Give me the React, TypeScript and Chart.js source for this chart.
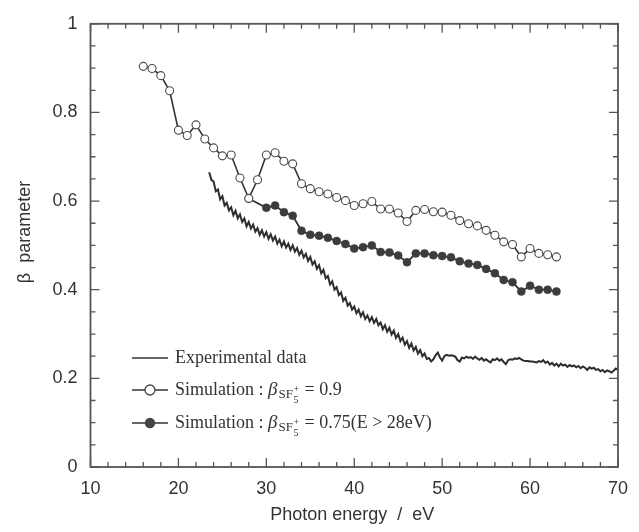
import React, { useEffect, useRef } from 'react';
import { Chart, registerables } from 'chart.js';

Chart.register(...registerables);

// Simulation : beta(SF5+) = 0.9  (open circles)
const openEnergy = [16, 17, 18, 19, 20, 21, 22, 23, 24, 25, 26, 27, 28, 29, 30, 31, 32, 33, 34, 35, 36, 37, 38, 39, 40, 41, 42, 43, 44, 45, 46, 47, 48, 49, 50, 51, 52, 53, 54, 55, 56, 57, 58, 59, 60, 61, 62, 63];
const openBeta = [0.904, 0.899, 0.883, 0.849, 0.760, 0.748, 0.772, 0.740, 0.720, 0.702, 0.704, 0.652, 0.606, 0.648, 0.704, 0.709, 0.690, 0.684, 0.639, 0.628, 0.621, 0.616, 0.608, 0.601, 0.590, 0.594, 0.599, 0.582, 0.582, 0.573, 0.554, 0.579, 0.581, 0.576, 0.575, 0.568, 0.556, 0.549, 0.544, 0.534, 0.523, 0.508, 0.502, 0.474, 0.493, 0.482, 0.479, 0.474];

// Simulation : beta(SF5+) = 0.75 (E > 28 eV)  (filled circles)
const filledEnergy = [28, 30, 31, 32, 33, 34, 35, 36, 37, 38, 39, 40, 41, 42, 43, 44, 45, 46, 47, 48, 49, 50, 51, 52, 53, 54, 55, 56, 57, 58, 59, 60, 61, 62, 63];
const filledBeta = [0.606, 0.585, 0.590, 0.575, 0.567, 0.533, 0.524, 0.522, 0.517, 0.510, 0.503, 0.493, 0.496, 0.500, 0.485, 0.484, 0.477, 0.462, 0.482, 0.482, 0.478, 0.476, 0.473, 0.464, 0.459, 0.456, 0.447, 0.437, 0.422, 0.417, 0.396, 0.409, 0.400, 0.400, 0.396];

// Experimental data, sampled every 0.25 eV from 23.5 eV
const expStart = 23.5;
const expStep = 0.25;
const expBeta = [
  0.665, 0.648,
  0.644, 0.622, 0.626, 0.604,
  0.611, 0.590, 0.596, 0.579,
  0.586, 0.568, 0.578, 0.561,
  0.570, 0.553, 0.561, 0.543,
  0.553, 0.538, 0.547, 0.531,
  0.539, 0.524, 0.534, 0.520,
  0.530, 0.515, 0.525, 0.511,
  0.520, 0.504, 0.513, 0.498,
  0.509, 0.495, 0.504, 0.490,
  0.500, 0.486, 0.494, 0.479,
  0.488, 0.473, 0.481, 0.465,
  0.474, 0.457, 0.464, 0.447,
  0.455, 0.437, 0.445, 0.426,
  0.431, 0.412, 0.419, 0.400,
  0.406, 0.388, 0.394, 0.375,
  0.382, 0.364, 0.370, 0.355,
  0.362, 0.347, 0.355, 0.340,
  0.349, 0.334, 0.342, 0.329,
  0.338, 0.325, 0.334, 0.320,
  0.326, 0.311, 0.320, 0.305,
  0.314, 0.299, 0.308, 0.291,
  0.300, 0.284, 0.292, 0.276,
  0.284, 0.269, 0.279, 0.263,
  0.271, 0.256, 0.264, 0.250,
  0.256, 0.244, 0.246, 0.238,
  0.243, 0.252, 0.258, 0.247,
  0.240, 0.250, 0.253, 0.251,
  0.252, 0.251, 0.249, 0.241,
  0.238, 0.247, 0.245, 0.249,
  0.246, 0.248, 0.244, 0.249,
  0.245, 0.242, 0.246, 0.240,
  0.243, 0.239, 0.236, 0.243,
  0.241, 0.245, 0.240, 0.243,
  0.237, 0.232, 0.241, 0.243,
  0.242, 0.245, 0.244, 0.246,
  0.243, 0.240, 0.239, 0.239,
  0.238, 0.238, 0.237, 0.236,
  0.239, 0.237, 0.241, 0.235,
  0.238, 0.231, 0.235, 0.229,
  0.233, 0.227, 0.233, 0.229,
  0.231, 0.226, 0.230, 0.227,
  0.229, 0.225, 0.228, 0.223,
  0.227, 0.224, 0.219, 0.225,
  0.222, 0.224, 0.219, 0.221,
  0.216, 0.219, 0.214, 0.218,
  0.216, 0.213, 0.217, 0.222,
  0.219,
];

const xTickValues = [10, 20, 30, 40, 50, 60, 70];
const xTickLabels = ['10', '20', '30', '40', '50', '60', '70'];
const yTickValues = [0, 0.2, 0.4, 0.6, 0.8, 1];
const yTickLabels = ['0', '0.2', '0.4', '0.6', '0.8', '1'];

const xTitle = 'Photon energy  /  eV';
const yTitle = 'β  parameter';
const legendExp = 'Experimental data';
const legendSimPrefix = 'Simulation : ';
const legendOpenSuffix = ' = 0.9';
const legendFilledSuffix = ' = 0.75(E > 28eV)';

const INK = '#333';
const SANS = '"Liberation Sans", Arial, Helvetica, sans-serif';
const SERIF = '"Liberation Serif", "Times New Roman", serif';

const decorPlugin = {
  id: 'decor',
  afterDraw(chart: any) {
    const ctx: CanvasRenderingContext2D = chart.ctx;
    const { left, right, top, bottom } = chart.chartArea;
    const xs = chart.scales.x;
    const ys = chart.scales.y;
    ctx.save();
    // frame
    ctx.strokeStyle = '#555';
    ctx.lineWidth = 1.8;
    ctx.strokeRect(left, top, right - left, bottom - top);
    // ticks (inward, all four sides)
    ctx.lineWidth = 1.3;
    ctx.beginPath();
    for (let v = 10; v <= 70; v += 2) {
      const px = xs.getPixelForValue(v);
      const len = v % 10 === 0 ? 9 : 5;
      ctx.moveTo(px, bottom);
      ctx.lineTo(px, bottom - len);
      ctx.moveTo(px, top);
      ctx.lineTo(px, top + len);
    }
    for (let i = 0; i <= 20; i++) {
      const v = i * 0.05;
      const py = ys.getPixelForValue(v);
      const len = i % 4 === 0 ? 9 : 5;
      ctx.moveTo(left, py);
      ctx.lineTo(left + len, py);
      ctx.moveTo(right, py);
      ctx.lineTo(right - len, py);
    }
    ctx.stroke();

    // axis titles
    ctx.fillStyle = '#333';
    ctx.font = `18px ${SANS}`;
    ctx.textAlign = 'center';
    ctx.textBaseline = 'middle';
    ctx.fillText(xTitle, (left + right) / 2 - 2, 515);
    ctx.save();
    ctx.translate(25, 232);
    ctx.rotate(-Math.PI / 2);
    ctx.fillText(yTitle, 0, 0);
    ctx.restore();

    // legend
    const lx0 = 132;
    const lx1 = 168;
    const tx = 175;
    const rows = [358, 390, 423];
    ctx.strokeStyle = INK;
    ctx.lineWidth = 1.7;
    rows.forEach((ry) => {
      ctx.beginPath();
      ctx.moveTo(lx0, ry);
      ctx.lineTo(lx1, ry);
      ctx.stroke();
    });
    // markers
    ctx.lineWidth = 1.3;
    ctx.beginPath();
    ctx.arc(150, rows[1], 5, 0, Math.PI * 2);
    ctx.fillStyle = '#fff';
    ctx.fill();
    ctx.strokeStyle = '#444';
    ctx.stroke();
    ctx.beginPath();
    ctx.arc(150, rows[2], 5.2, 0, Math.PI * 2);
    ctx.fillStyle = '#444';
    ctx.fill();

    ctx.fillStyle = '#333';
    ctx.textAlign = 'left';
    ctx.textBaseline = 'middle';
    ctx.font = `18px ${SERIF}`;
    ctx.fillText(legendExp, tx, rows[0]);

    const drawSim = (ry: number, suffix: string) => {
      let x = tx;
      ctx.font = `18px ${SERIF}`;
      ctx.fillText(legendSimPrefix, x, ry);
      x += ctx.measureText(legendSimPrefix).width;
      ctx.font = `italic 19px ${SERIF}`;
      ctx.fillText('β', x, ry);
      x += ctx.measureText('β').width + 1;
      ctx.font = `13px ${SERIF}`;
      ctx.fillText('SF', x, ry + 5);
      x += ctx.measureText('SF').width + 0.5;
      ctx.font = `10px ${SERIF}`;
      ctx.fillText('5', x, ry + 10);
      ctx.fillText('+', x, ry - 1);
      x += ctx.measureText('+').width + 1;
      ctx.font = `18px ${SERIF}`;
      ctx.fillText(suffix, x, ry);
    };
    drawSim(rows[1], legendOpenSuffix);
    drawSim(rows[2], legendFilledSuffix);
    ctx.restore();
  },
};

export default function App() {
  const canvasRef = useRef<HTMLCanvasElement | null>(null);

  useEffect(() => {
    const canvas = canvasRef.current;
    if (!canvas) return;
    const expData = expBeta.map((b, i) => ({ x: expStart + i * expStep, y: b }));
    const openData = openEnergy.map((e, i) => ({ x: e, y: openBeta[i] }));
    const filledData = filledEnergy.map((e, i) => ({ x: e, y: filledBeta[i] }));

    const tickFont = { family: SANS, size: 18 };

    const chart = new Chart(canvas, {
      type: 'line',
      data: {
        datasets: [
          {
            label: 'open',
            data: openData,
            borderColor: INK,
            borderWidth: 1.6,
            pointRadius: 4,
            pointBorderWidth: 1.1,
            pointBorderColor: '#4a4a4a',
            pointBackgroundColor: '#ffffff',
            tension: 0,
          },
          {
            label: 'filled',
            data: filledData,
            borderColor: INK,
            borderWidth: 1.8,
            pointRadius: 4,
            pointBorderWidth: 0.5,
            pointBorderColor: '#3c3c3c',
            pointBackgroundColor: '#3c3c3c',
            tension: 0,
          },
          {
            label: 'exp',
            data: expData,
            borderColor: '#2e2e2e',
            borderWidth: 2,
            pointRadius: 0,
            tension: 0,
          },
        ],
      },
      options: {
        animation: false,
        responsive: false,
        devicePixelRatio: 1,
        parsing: false as any,
        layout: { padding: { top: 20, right: 12, left: 0, bottom: 0 } },
        plugins: {
          legend: { display: false },
          tooltip: { enabled: false },
          title: { display: false },
        },
        scales: {
          x: {
            type: 'linear',
            min: 10,
            max: 70,
            grid: { display: false, drawTicks: false },
            border: { display: false },
            afterBuildTicks: (s: any) => {
              s.ticks = xTickValues.map((v) => ({ value: v }));
            },
            afterFit: (s: any) => {
              s.height = 65;
            },
            ticks: {
              font: tickFont,
              color: '#333',
              padding: 11,
              maxRotation: 0,
              autoSkip: false,
              callback: (_v: any, i: number) => xTickLabels[i],
            },
          },
          y: {
            type: 'linear',
            min: 0,
            max: 1,
            grid: { display: false, drawTicks: false },
            border: { display: false },
            afterBuildTicks: (s: any) => {
              s.ticks = yTickValues.map((v) => ({ value: v }));
            },
            afterFit: (s: any) => {
              s.width = 90.5;
            },
            ticks: {
              font: tickFont,
              color: '#333',
              padding: 13,
              autoSkip: false,
              callback: (_v: any, i: number) => yTickLabels[i],
            },
          },
        },
      } as any,
      plugins: [decorPlugin],
    });
    return () => chart.destroy();
  }, []);

  return (
    <div style={{ position: 'fixed', left: 0, top: 0, width: 639, height: 532, background: '#fff' }}>
      <canvas ref={canvasRef} width={639} height={532} style={{ width: 639, height: 532, display: 'block' }} />
    </div>
  );
}
